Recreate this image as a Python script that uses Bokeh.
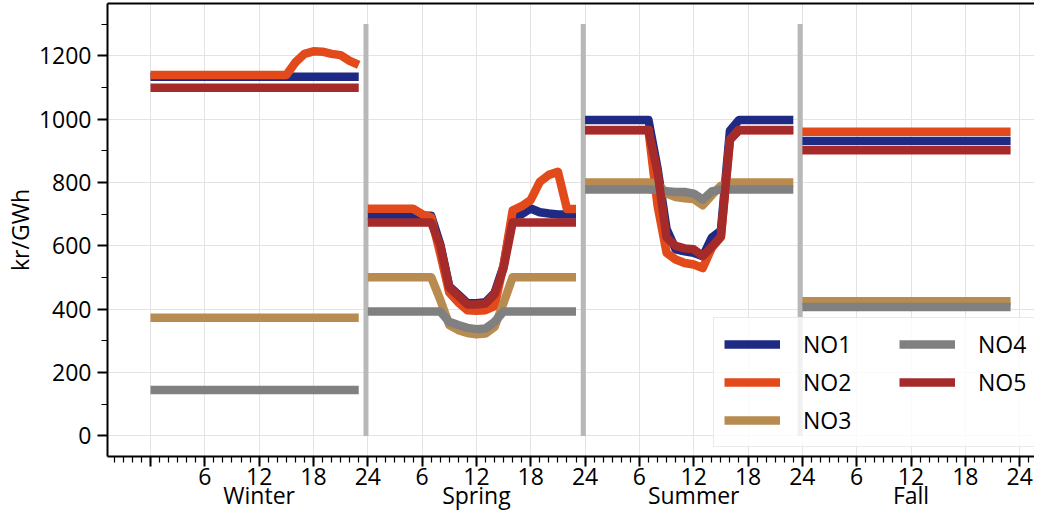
from bokeh.plotting import figure
from bokeh.models import FixedTicker, LinearAxis, Range1d, Legend, LegendItem
from bokeh.embed import file_html
from bokeh.resources import INLINE

seasons = ["Winter", "Spring", "Summer", "Fall"]
season_centers = [12, 36, 60, 84]
season_bounds = [23.8, 47.8, 71.75]
hours_per_season = 24

# kr/GWh per hour, seasons in order Winter, Spring, Summer, Fall
no1_winter = [1134] * 24
no1_spring = [695] * 8 + [605, 472, 446, 419, 419, 422, 451, 537] + [697, 700, 718, 706, 702, 699, 699, 699]
no1_summer = [997] * 8 + [845, 653, 589, 583, 578, 567, 626, 648, 963] + [997] * 7
no1_fall = [931] * 24

no2_winter = [1139] * 16 + [1179, 1206, 1214, 1213, 1206, 1202, 1184, 1171]
no2_spring = [717] * 6 + [700, 690] + [575, 453, 421, 397, 395, 397, 410, 540] + [712, 725, 745, 802, 824, 834, 716, 716]
no2_summer = [966] * 8 + [728, 578, 557, 546, 541, 530, 594, 627, 935] + [966] * 7
no2_fall = [960] * 24

no3_winter = [373] * 24
no3_spring = [501] * 8 + [430, 350, 334, 325, 321, 323, 344, 420] + [501] * 8
no3_summer = [800] * 8 + [797, 765, 754, 750, 748, 728, 760, 790] + [800] * 8
no3_fall = [425] * 24

no4_winter = [145] * 24
no4_spring = [393] * 9 + [360, 350, 341, 337, 339, 360] + [393] * 9
no4_summer = [778] * 8 + [776, 772, 770, 770, 765, 746, 772, 778] + [778] * 8
no4_fall = [407] * 24

no5_winter = [1099] * 24
no5_spring = [674] * 8 + [602, 469, 442, 415, 415, 418, 447, 530] + [674] * 8
no5_summer = [965] * 8 + [834, 627, 600, 592, 589, 568, 597, 630, 935] + [965] * 7
no5_fall = [902] * 24

series = {
    "NO1": [no1_winter, no1_spring, no1_summer, no1_fall],
    "NO2": [no2_winter, no2_spring, no2_summer, no2_fall],
    "NO3": [no3_winter, no3_spring, no3_summer, no3_fall],
    "NO4": [no4_winter, no4_spring, no4_summer, no4_fall],
    "NO5": [no5_winter, no5_spring, no5_summer, no5_fall],
}
colors = {"NO1": "#1f2a85", "NO2": "#e24a1b", "NO3": "#b88b50", "NO4": "#808080", "NO5": "#a52a2a"}

x_ticks = list(range(0, 97, 6))
x_tick_labels = {t: ("" if t == 0 else str(((t - 1) % 24) + 1)) for t in x_ticks}
y_ticks = list(range(0, 1201, 200))
y_minor = list(range(100, 1301, 200))

FONT = "Open Sans"
FS = "23px"

p = figure(width=1034, height=513, output_backend="svg", toolbar_location=None,
           x_range=Range1d(-4.75, 97.64), y_range=Range1d(-65, 1365),
           min_border_left=100, min_border_right=0, min_border_top=3, min_border_bottom=0)
p.outline_line_color = None
p.background_fill_color = "white"

# grid
p.xgrid.ticker = FixedTicker(ticks=x_ticks)
p.ygrid.ticker = FixedTicker(ticks=y_ticks)
for g in (p.xgrid, p.ygrid):
    g.grid_line_color = "#e3e3e3"
    g.grid_line_width = 1

# season separators
p.segment(x0=season_bounds, y0=[0] * 3, x1=season_bounds, y1=[1300] * 3,
          line_color="#b8b8b8", line_width=5)

renderers = {}
for name, parts in series.items():
    for s, vals in enumerate(parts):
        xs = [s * hours_per_season + h for h in range(len(vals))]
        r = p.line(xs, vals, line_color=colors[name], line_width=8.5, line_join="round")
        if s == 0:
            renderers[name] = r

# axes
xa = p.xaxis[0]
xa.ticker = FixedTicker(ticks=x_ticks, minor_ticks=list(range(-4, 98)))
xa.major_label_overrides = x_tick_labels
ya = p.yaxis[0]
ya.ticker = FixedTicker(ticks=y_ticks, minor_ticks=y_minor)
ya.axis_label = "kr/GWh"
ya.axis_label_standoff = 0
ya.axis_label_text_font_style = "normal"

for ax in (xa, ya):
    ax.axis_line_width = 2
    ax.axis_line_color = "black"
    ax.major_tick_line_width = 2
    ax.major_tick_out = 10
    ax.major_tick_in = 0
    ax.minor_tick_out = 6
    ax.minor_tick_in = 0
    ax.minor_tick_line_width = 1.2
    ax.major_label_text_font = FONT
    ax.major_label_text_font_size = FS
    ax.major_label_text_color = "black"
    ax.axis_label_text_font = FONT
    ax.axis_label_text_font_size = FS
    ax.axis_label_text_color = "black"
xa.major_label_standoff = 1
ya.major_label_standoff = 6

season_axis = LinearAxis(ticker=FixedTicker(ticks=season_centers, minor_ticks=[]),
                         major_label_overrides={c: s for c, s in zip(season_centers, seasons)})
season_axis.axis_line_color = None
season_axis.major_tick_line_color = None
season_axis.minor_tick_line_color = None
season_axis.major_tick_out = 0
season_axis.major_tick_in = 0
season_axis.major_label_standoff = -9
season_axis.major_label_text_font = FONT
season_axis.major_label_text_font_size = FS
season_axis.major_label_text_color = "black"
p.add_layout(season_axis, "below")

top_axis = LinearAxis(ticker=FixedTicker(ticks=[], minor_ticks=[]))
top_axis.axis_line_width = 2
top_axis.axis_line_color = "black"
top_axis.major_label_text_font_size = "0px"
p.add_layout(top_axis, "above")

legend = Legend(items=[LegendItem(label=n, renderers=[renderers[n]]) for n in series],
                location=(606, 9), nrows=3, orientation="vertical")
legend.label_text_font = FONT
legend.label_text_font_size = FS
legend.label_text_color = "black"
legend.glyph_width = 56
legend.glyph_height = 20
legend.label_height = 20
legend.label_width = 90
legend.label_standoff = 23
legend.spacing = 6
legend.padding = 10
legend.margin = 0
legend.background_fill_color = "white"
legend.background_fill_alpha = 0.8
legend.border_line_color = "#d5d5d5"
legend.border_line_width = 1
p.add_layout(legend, "center")

open("out.html", "w").write(file_html(p, INLINE))
